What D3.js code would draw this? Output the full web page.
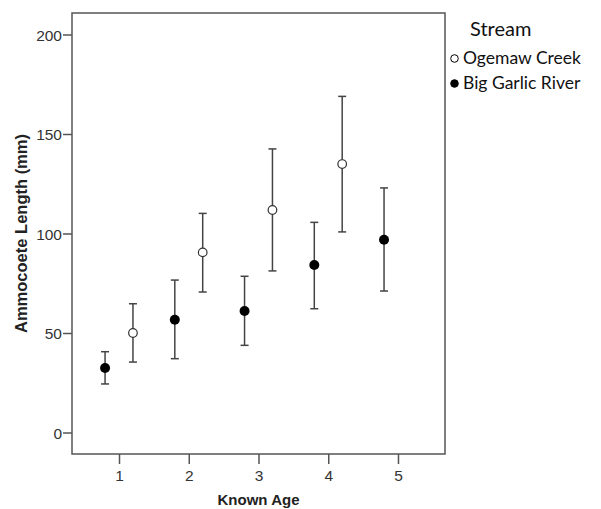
<!DOCTYPE html>
<html>
<head>
<meta charset="utf-8">
<script src="https://cdn.jsdelivr.net/npm/d3@7"></script>
<style>
  body { margin: 0; background: #fff; }
</style>
</head>
<body>
<div id="chart-area"></div>
<script>
// data
var ages = [1, 2, 3, 4, 5];
var streams = ["Ogemaw Creek", "Big Garlic River"];
var ogemawMean = [50.0, 90.5, 111.8, 134.9];
var ogemawLow = [35.4, 70.6, 81.2, 100.8];
var ogemawHigh = [64.7, 110.1, 142.5, 168.9];
var garlicMean = [32.4, 56.7, 61.1, 84.2, 96.9];
var garlicLow = [24.4, 37.1, 43.8, 62.2, 71.1];
var garlicHigh = [40.6, 76.6, 78.5, 105.6, 122.9];
var yTicks = [0, 50, 100, 150, 200];

var margin = { left: 72, top: 13 };
var width = 373, height = 441;

var svg = d3.select("#chart-area").append("svg")
    .attr("width", 601).attr("height", 509);

var group = svg.append("g")
    .attr("transform", "translate(" + margin.left + "," + margin.top + ")");

var x = d3.scaleLinear().domain([0.326, 5.674]).range([0, width]);
var y = d3.scaleLinear().domain([-10.8, 210.8]).range([height, 0]);

var ink = "#444";

// frame
group.append("rect")
    .attr("width", width).attr("height", height)
    .attr("fill", "none").attr("stroke", "#555").attr("stroke-width", 1.5);

// axes
var xAxis = group.append("g")
    .attr("transform", "translate(0," + height + ")")
    .call(d3.axisBottom(x).tickValues(ages).tickSize(10).tickSizeOuter(0).tickFormat(d3.format("d")));
var yAxis = group.append("g")
    .call(d3.axisLeft(y).tickValues(yTicks).tickSize(9).tickSizeOuter(0));

[xAxis, yAxis].forEach(function (a) {
    a.select(".domain").remove();
    a.selectAll("line").attr("stroke", "#555").attr("stroke-width", 1.5);
    a.selectAll("text")
        .attr("font-family", "Liberation Sans, Arial, sans-serif")
        .attr("font-size", "15.5px").attr("fill", "#333");
});
xAxis.selectAll("text").attr("y", 16).attr("dy", "0.71em");
yAxis.selectAll("text").attr("x", -10).attr("dy", "0.36em");

// axis labels
group.append("text")
    .attr("transform", "rotate(-90)")
    .attr("x", -height / 2).attr("y", -45)
    .attr("text-anchor", "middle")
    .attr("font-family", "Liberation Sans, Arial, sans-serif")
    .attr("font-weight", "bold").attr("font-size", "16.5px").attr("fill", "#222")
    .text("Ammocoete Length (mm)");

group.append("text")
    .attr("x", width / 2).attr("y", height + 51)
    .attr("text-anchor", "middle")
    .attr("font-family", "Liberation Sans, Arial, sans-serif")
    .attr("font-weight", "bold").attr("font-size", "15px").attr("fill", "#222")
    .text("Known Age");

// build series
var series = [
    { name: streams[0], offset: 0.2, filled: false,
      pts: ogemawMean.map(function (m, i) { return { age: ages[i], m: m, lo: ogemawLow[i], hi: ogemawHigh[i] }; }) },
    { name: streams[1], offset: -0.2, filled: true,
      pts: garlicMean.map(function (m, i) { return { age: ages[i], m: m, lo: garlicLow[i], hi: garlicHigh[i] }; }) }
];

series.forEach(function (s) {
    var g = group.append("g");
    var bars = g.selectAll(".err").data(s.pts).enter().append("g");
    bars.append("line")
        .attr("x1", d => x(d.age + s.offset)).attr("x2", d => x(d.age + s.offset))
        .attr("y1", d => y(d.lo)).attr("y2", d => y(d.hi))
        .attr("stroke", ink).attr("stroke-width", 1.5);
    ["lo", "hi"].forEach(function (k) {
        bars.append("line")
            .attr("x1", d => x(d.age + s.offset) - 4).attr("x2", d => x(d.age + s.offset) + 4)
            .attr("y1", d => y(d[k])).attr("y2", d => y(d[k]))
            .attr("stroke", ink).attr("stroke-width", 1.5);
    });
    g.selectAll("circle").data(s.pts).enter().append("circle")
        .attr("cx", d => x(d.age + s.offset)).attr("cy", d => y(d.m))
        .attr("r", s.filled ? 5 : 4.3)
        .attr("fill", s.filled ? "#000" : "#fff")
        .attr("stroke", s.filled ? "#000" : "#333").attr("stroke-width", s.filled ? 0 : 1.2);
});

// legend
var legend = svg.append("g").attr("transform", "translate(450,0)");
legend.append("text")
    .attr("x", 20).attr("y", 36)
    .attr("font-family", "Lato, Open Sans, sans-serif")
    .attr("font-size", "20px").attr("fill", "#111")
    .text("Stream");
var items = legend.selectAll(".item").data(series).enter().append("g")
    .attr("transform", (d, i) => "translate(0," + (64 + i * 25) + ")");
items.append("circle")
    .attr("cx", 4.5).attr("cy", -5.5).attr("r", 3.8)
    .attr("fill", d => d.filled ? "#000" : "#fff")
    .attr("stroke", "#000").attr("stroke-width", 1);
items.append("text")
    .attr("x", 13).attr("y", 0)
    .attr("font-family", "Lato, Open Sans, sans-serif")
    .attr("font-size", "17.5px").attr("fill", "#111")
    .text(d => d.name);
</script>
</body>
</html>
